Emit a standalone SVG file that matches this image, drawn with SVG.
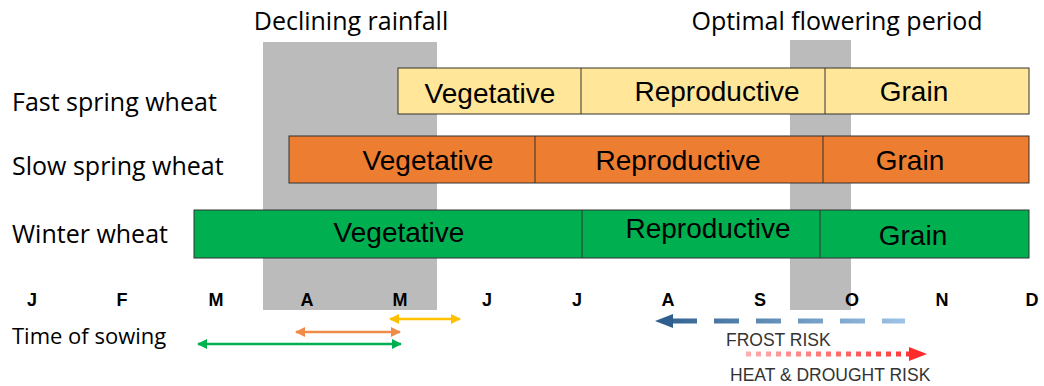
<svg xmlns="http://www.w3.org/2000/svg" width="1044" height="386" viewBox="0 0 1044 386">
<style>
.lbl{font-family:"Open Sans","Liberation Sans",sans-serif;font-size:25px;fill:#000}
.bt{font-family:"Liberation Sans",Arial,sans-serif;font-size:28px;fill:#000;text-anchor:middle}
.mo{font-family:"Liberation Sans",Arial,sans-serif;font-size:18px;font-weight:bold;fill:#000;text-anchor:middle}
.risk{font-family:"Liberation Sans",Arial,sans-serif;font-size:17.5px;fill:#333}
.bar{stroke:#333;stroke-width:1}
.div{stroke:#333;stroke-width:1}
</style>
<defs>
<linearGradient id="gBlue" gradientUnits="userSpaceOnUse" x1="655" y1="0" x2="905" y2="0">
<stop offset="0" stop-color="#2e5f8e"/><stop offset="1" stop-color="#9dc3e6"/>
</linearGradient>
<linearGradient id="gRed" gradientUnits="userSpaceOnUse" x1="740" y1="0" x2="925" y2="0">
<stop offset="0" stop-color="#ffb3b3"/><stop offset="1" stop-color="#ff2a2a"/>
</linearGradient>
<marker id="ay" viewBox="0 0 10 10" refX="9" refY="5" markerWidth="4" markerHeight="4" orient="auto-start-reverse"><path d="M0,0L10,5L0,10z" fill="#FFC000"/></marker>
<marker id="ao" viewBox="0 0 10 10" refX="9" refY="5" markerWidth="4" markerHeight="4" orient="auto-start-reverse"><path d="M0,0L10,5L0,10z" fill="#F08C4A"/></marker>
<marker id="ag" viewBox="0 0 10 10" refX="9" refY="5" markerWidth="4" markerHeight="4" orient="auto-start-reverse"><path d="M0,0L10,5L0,10z" fill="#00B050"/></marker>
</defs>
<rect width="1044" height="386" fill="#fff"/>
<g id="shading">
<rect x="263" y="42" width="174" height="268" fill="#BBBBBB"/>
<rect x="790" y="40" width="61" height="270" fill="#BBBBBB"/>
<text x="351" y="30" class="lbl" text-anchor="middle">Declining rainfall</text>
<text x="837" y="30" class="lbl" text-anchor="middle">Optimal flowering period</text>
</g>
<g id="fast">
<text x="12" y="111" class="lbl">Fast spring wheat</text>
<rect x="398" y="68" width="631" height="46" fill="#FFE699" class="bar"/>
<line x1="581" y1="68" x2="581" y2="114" class="div"/>
<line x1="825" y1="68" x2="825" y2="114" class="div"/>
<text x="490" y="103" class="bt">Vegetative</text>
<text x="717" y="101" class="bt">Reproductive</text>
<text x="914" y="101" class="bt">Grain</text>
</g>
<g id="slow">
<text x="12" y="175" class="lbl">Slow spring wheat</text>
<rect x="289" y="136" width="740" height="47" fill="#ED7D31" class="bar"/>
<line x1="535" y1="136" x2="535" y2="183" class="div"/>
<line x1="823" y1="136" x2="823" y2="183" class="div"/>
<text x="428" y="170" class="bt">Vegetative</text>
<text x="678" y="170" class="bt">Reproductive</text>
<text x="910" y="170" class="bt">Grain</text>
</g>
<g id="winter">
<text x="12" y="243" class="lbl">Winter wheat</text>
<rect x="194" y="210" width="835" height="48" fill="#00B050" class="bar"/>
<line x1="582" y1="210" x2="582" y2="258" class="div"/>
<line x1="820" y1="210" x2="820" y2="258" class="div"/>
<text x="399" y="242" class="bt">Vegetative</text>
<text x="708" y="238" class="bt">Reproductive</text>
<text x="913" y="245" class="bt">Grain</text>
</g>
<g id="months">
<text x="32" y="306" class="mo">J</text>
<text x="122" y="306" class="mo">F</text>
<text x="216" y="306" class="mo">M</text>
<text x="307" y="306" class="mo">A</text>
<text x="400" y="306" class="mo">M</text>
<text x="487" y="306" class="mo">J</text>
<text x="577" y="306" class="mo">J</text>
<text x="668" y="306" class="mo">A</text>
<text x="760" y="306" class="mo">S</text>
<text x="852" y="306" class="mo">O</text>
<text x="942" y="306" class="mo">N</text>
<text x="1032" y="306" class="mo">D</text>
</g>
<text x="12" y="344" class="lbl" style="font-size:22px">Time of sowing</text>
<g id="connectors">
<line x1="390" y1="319" x2="460" y2="319" stroke="#FFC000" stroke-width="2.5" marker-start="url(#ay)" marker-end="url(#ay)"/>
<line x1="296" y1="332" x2="400" y2="332" stroke="#F08C4A" stroke-width="2.5" marker-start="url(#ao)" marker-end="url(#ao)"/>
<line x1="198" y1="344" x2="401" y2="344" stroke="#00B050" stroke-width="2.5" marker-start="url(#ag)" marker-end="url(#ag)"/>
<line x1="672" y1="321" x2="905" y2="321" stroke="url(#gBlue)" stroke-width="5" stroke-dasharray="25,17"/>
<path d="M655,321L673,314L673,328z" fill="#2e5f8e"/>
<line x1="746" y1="354" x2="910" y2="354" stroke="url(#gRed)" stroke-width="5" stroke-dasharray="5,5"/>
<path d="M927,354L909,347L909,361z" fill="#ff2a2a"/>
</g>
<text x="726" y="346" class="risk">FROST RISK</text>
<text x="730" y="381" class="risk">HEAT &amp; DROUGHT RISK</text>
</svg>
